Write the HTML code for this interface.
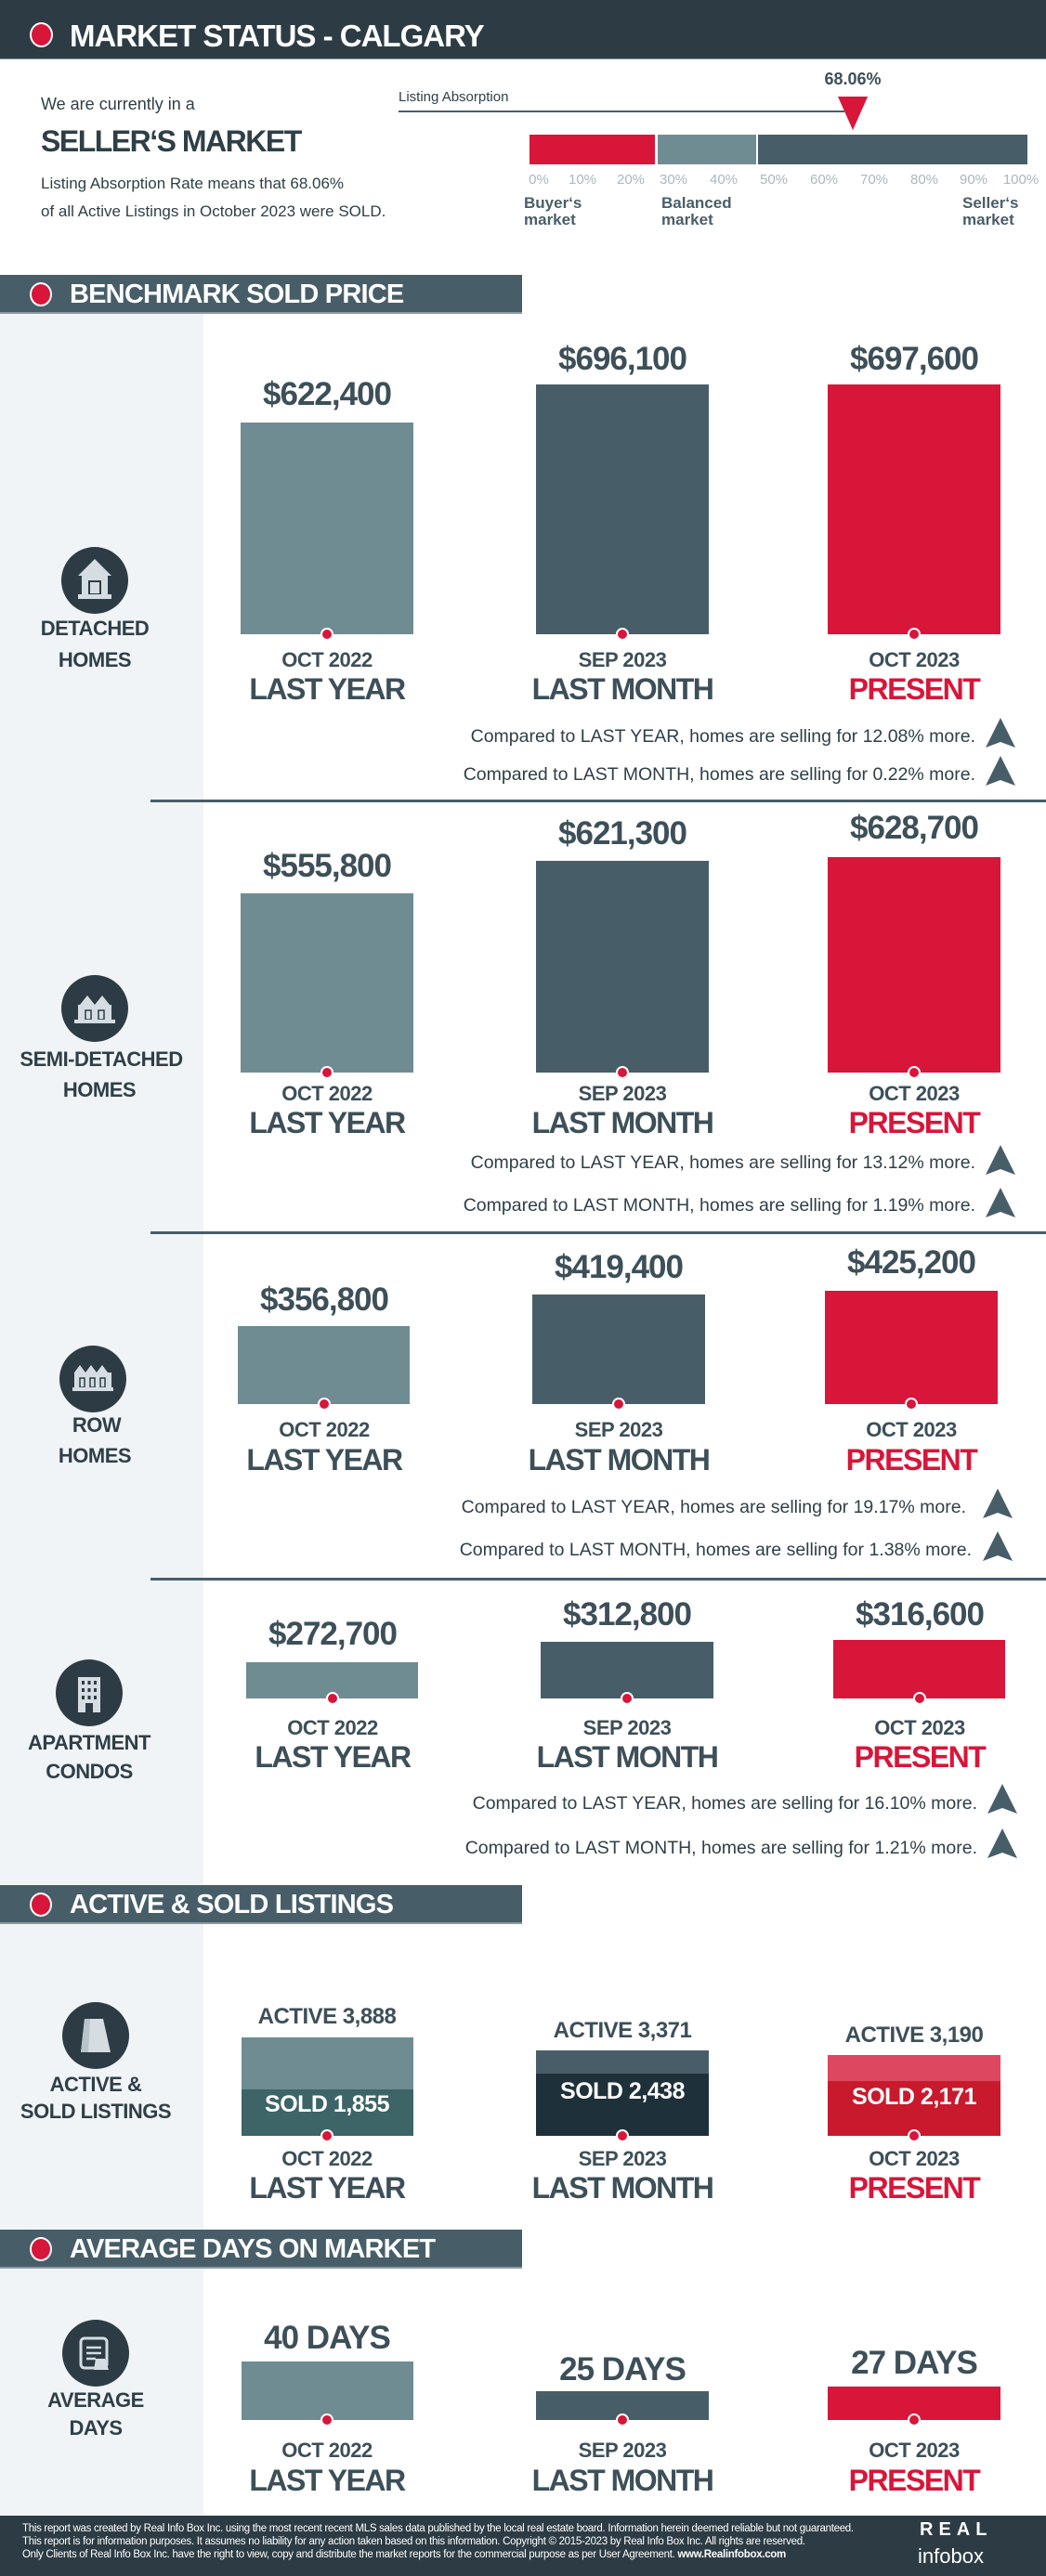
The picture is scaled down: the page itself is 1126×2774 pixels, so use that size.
<!DOCTYPE html>
<html><head><meta charset="utf-8"><style>
*{margin:0;padding:0;box-sizing:border-box}
body{width:1126px;height:2774px;position:relative;background:#fff;font-family:"Liberation Sans",sans-serif;color:#3d4f58;overflow:hidden}
.a{position:absolute}
.t{position:absolute;white-space:nowrap;line-height:1}
.c{transform:translateX(-50%)}
.b{font-weight:bold}
.p{font-size:35px;font-weight:bold;letter-spacing:-1px;color:#3d4f58}
.d{font-size:22px;font-weight:bold;letter-spacing:-0.5px;color:#3d4f58}
.l{font-size:32px;font-weight:bold;letter-spacing:-1.5px;color:#3d4f58}
.red{color:#d7163a}
.cmp{font-size:19.5px;color:#2f3f47}
.dot{position:absolute;width:14px;height:14px;border-radius:50%;background:#d7163a;border:2px solid #fff;transform:translate(-50%,-50%)}
.hd{position:absolute;left:0;width:562px;height:42px;background:#475e69;border-bottom:2px solid #8a9aa2}
.hd i{position:absolute;left:32px;top:8px;width:24px;height:26px;border-radius:50%;background:#d7163a;border:2px solid #fff}
.hd span{position:absolute;left:75px;top:7px;color:#fff;font-size:29px;font-weight:bold;letter-spacing:-0.8px;line-height:1}
.ic{position:absolute;width:72px;height:72px;border-radius:50%;background:#2d3c44;transform:translate(-50%,-50%)}
.sep{position:absolute;left:162px;width:964px;height:3px;background:#475e69}
.cat{font-size:22px;font-weight:bold;letter-spacing:-0.5px;color:#2f3f47}
</style></head><body>
<!-- left panel -->
<div class="a" style="left:0;top:338px;width:219px;height:2371px;background:#f1f4f7"></div>

<!-- top header -->
<div class="a" style="left:0;top:0;width:1126px;height:64px;background:#2d3c44;border-bottom:1px solid #8a9aa2"></div>
<div class="a" style="left:32px;top:24px;width:25px;height:27px;border-radius:50%;background:#d7163a;border:2px solid #fff"></div>
<div class="t b" style="left:75px;top:22px;font-size:33px;color:#fff;letter-spacing:-1px">MARKET STATUS - CALGARY</div>

<div class="t" style="left:44px;top:103px;font-size:18px;color:#2f3f47">We are currently in a</div>
<div class="t b" style="left:44px;top:136px;font-size:32px;color:#2f3f47;letter-spacing:-1.5px">SELLER‘S MARKET</div>
<div class="t" style="left:44px;top:189px;font-size:17px;color:#2f3f47">Listing Absorption Rate means that 68.06%</div>
<div class="t" style="left:44px;top:219px;font-size:17px;color:#2f3f47">of all Active Listings in October 2023 were SOLD.</div>

<div class="t" style="left:429px;top:97px;font-size:15px;color:#2f3f47">Listing Absorption</div>
<div class="a" style="left:429px;top:119px;width:480px;height:2px;background:#475e69"></div>
<div class="t b c" style="left:918px;top:76px;font-size:18px;color:#3d4f58">68.06%</div>
<svg class="a" style="left:902px;top:104px" width="32" height="36"><polygon points="0,0 32,0 16,36 14,14" fill="#d7163a"/><polygon points="0,0 32,0 16,36" fill="#d7163a"/></svg>
<div class="a" style="left:570px;top:145px;width:135px;height:32px;background:#d7163a"></div>
<div class="a" style="left:708px;top:145px;width:106px;height:32px;background:#6f8c92"></div>
<div class="a" style="left:816px;top:145px;width:290px;height:32px;background:#475e69"></div>
<div class="t c" style="left:580px;top:186px;font-size:15px;color:#aab8bd">0%</div>
<div class="t c" style="left:627px;top:186px;font-size:15px;color:#aab8bd">10%</div>
<div class="t c" style="left:679px;top:186px;font-size:15px;color:#aab8bd">20%</div>
<div class="t c" style="left:725px;top:186px;font-size:15px;color:#aab8bd">30%</div>
<div class="t c" style="left:779px;top:186px;font-size:15px;color:#aab8bd">40%</div>
<div class="t c" style="left:833px;top:186px;font-size:15px;color:#aab8bd">50%</div>
<div class="t c" style="left:887px;top:186px;font-size:15px;color:#aab8bd">60%</div>
<div class="t c" style="left:941px;top:186px;font-size:15px;color:#aab8bd">70%</div>
<div class="t c" style="left:995px;top:186px;font-size:15px;color:#aab8bd">80%</div>
<div class="t c" style="left:1048px;top:186px;font-size:15px;color:#aab8bd">90%</div>
<div class="t c" style="left:1099px;top:186px;font-size:15px;color:#aab8bd">100%</div>
<div class="t b" style="left:564px;top:210px;font-size:17px;color:#4a5e68;line-height:18px">Buyer‘s<br>market</div>
<div class="t b" style="left:712px;top:210px;font-size:17px;color:#4a5e68;line-height:18px">Balanced<br>market</div>
<div class="t b" style="left:1036px;top:210px;font-size:17px;color:#4a5e68;line-height:18px">Seller‘s<br>market</div>

<!-- BENCHMARK -->
<div class="hd" style="top:296px"><i></i><span>BENCHMARK SOLD PRICE</span></div>

<!-- Detached -->
<div class="ic" style="left:102px;top:625px"></div>
<svg class="a" style="left:80px;top:600px" width="44" height="48"><polygon points="22,2 40,20 4,20" fill="#d5dde2"/><rect x="8" y="20" width="28" height="22" fill="#d5dde2"/><rect x="16" y="26" width="12" height="14" fill="none" stroke="#2d3c44" stroke-width="2"/><rect x="4" y="40" width="36" height="5" fill="#d5dde2"/></svg>
<div class="t cat c" style="left:102px;top:666px">DETACHED</div>
<div class="t cat c" style="left:102px;top:700px">HOMES</div>

<div class="a" style="left:259px;top:455px;width:186px;height:228px;background:#6f8c92"></div>
<div class="a" style="left:577px;top:414px;width:186px;height:269px;background:#475e69"></div>
<div class="a" style="left:891px;top:414px;width:186px;height:269px;background:#d7163a"></div>
<div class="t p c" style="left:352px;top:407px">$622,400</div>
<div class="t p c" style="left:670px;top:369px">$696,100</div>
<div class="t p c" style="left:984px;top:369px">$697,600</div>
<div class="dot" style="left:352px;top:683px"></div><div class="dot" style="left:670px;top:683px"></div><div class="dot" style="left:984px;top:683px"></div>
<div class="t d c" style="left:352px;top:700px">OCT 2022</div>
<div class="t d c" style="left:670px;top:700px">SEP 2023</div>
<div class="t d c" style="left:984px;top:700px">OCT 2023</div>
<div class="t l c" style="left:352px;top:726px">LAST YEAR</div>
<div class="t l c" style="left:670px;top:726px">LAST MONTH</div>
<div class="t l c red" style="left:984px;top:726px">PRESENT</div>
<div class="t cmp" style="right:76px;top:784px">Compared to LAST YEAR, homes are selling for 12.08% more.</div>
<div class="t cmp" style="right:76px;top:825px">Compared to LAST MONTH, homes are selling for 0.22% more.</div>
<svg class="a" style="left:1061px;top:773px" width="32" height="32"><polygon points="16,0 32,32 16,26 0,32" fill="#475e69"/></svg>
<svg class="a" style="left:1061px;top:814px" width="32" height="32"><polygon points="16,0 32,32 16,26 0,32" fill="#475e69"/></svg>
<div class="sep" style="top:861px"></div>

<!-- Semi -->
<div class="ic" style="left:102px;top:1086px"></div>
<svg class="a" style="left:78px;top:1068px" width="48" height="36"><polygon points="8,14 16,4 24,14 32,4 40,14" fill="#d5dde2"/><rect x="6" y="14" width="36" height="16" fill="#d5dde2"/><rect x="14" y="20" width="6" height="10" fill="none" stroke="#2d3c44" stroke-width="1.5"/><rect x="28" y="20" width="6" height="10" fill="none" stroke="#2d3c44" stroke-width="1.5"/><rect x="2" y="30" width="44" height="4" fill="#d5dde2"/></svg>
<div class="t cat c" style="left:109px;top:1130px">SEMI-DETACHED</div>
<div class="t cat c" style="left:107px;top:1163px">HOMES</div>

<div class="a" style="left:259px;top:962px;width:186px;height:193px;background:#6f8c92"></div>
<div class="a" style="left:577px;top:927px;width:186px;height:228px;background:#475e69"></div>
<div class="a" style="left:891px;top:923px;width:186px;height:232px;background:#d7163a"></div>
<div class="t p c" style="left:352px;top:915px">$555,800</div>
<div class="t p c" style="left:670px;top:880px">$621,300</div>
<div class="t p c" style="left:984px;top:874px">$628,700</div>
<div class="dot" style="left:352px;top:1155px"></div><div class="dot" style="left:670px;top:1155px"></div><div class="dot" style="left:984px;top:1155px"></div>
<div class="t d c" style="left:352px;top:1167px">OCT 2022</div>
<div class="t d c" style="left:670px;top:1167px">SEP 2023</div>
<div class="t d c" style="left:984px;top:1167px">OCT 2023</div>
<div class="t l c" style="left:352px;top:1193px">LAST YEAR</div>
<div class="t l c" style="left:670px;top:1193px">LAST MONTH</div>
<div class="t l c red" style="left:984px;top:1193px">PRESENT</div>
<div class="t cmp" style="right:76px;top:1243px">Compared to LAST YEAR, homes are selling for 13.12% more.</div>
<div class="t cmp" style="right:76px;top:1289px">Compared to LAST MONTH, homes are selling for 1.19% more.</div>
<svg class="a" style="left:1061px;top:1233px" width="32" height="32"><polygon points="16,0 32,32 16,26 0,32" fill="#475e69"/></svg>
<svg class="a" style="left:1061px;top:1279px" width="32" height="32"><polygon points="16,0 32,32 16,26 0,32" fill="#475e69"/></svg>
<div class="sep" style="top:1326px"></div>

<!-- Row -->
<div class="ic" style="left:100px;top:1485px"></div>
<svg class="a" style="left:76px;top:1466px" width="48" height="34"><polygon points="4,12 10,4 16,12 22,4 28,12 34,4 40,12 44,12" fill="#d5dde2"/><rect x="4" y="12" width="40" height="16" fill="#d5dde2"/><rect x="10" y="18" width="5" height="10" fill="none" stroke="#2d3c44" stroke-width="1.5"/><rect x="21" y="18" width="5" height="10" fill="none" stroke="#2d3c44" stroke-width="1.5"/><rect x="32" y="18" width="5" height="10" fill="none" stroke="#2d3c44" stroke-width="1.5"/><rect x="2" y="28" width="44" height="4" fill="#d5dde2"/></svg>
<div class="t cat c" style="left:104px;top:1524px">ROW</div>
<div class="t cat c" style="left:102px;top:1557px">HOMES</div>

<div class="a" style="left:256px;top:1428px;width:185px;height:84px;background:#6f8c92"></div>
<div class="a" style="left:573px;top:1394px;width:186px;height:118px;background:#475e69"></div>
<div class="a" style="left:888px;top:1390px;width:186px;height:122px;background:#d7163a"></div>
<div class="t p c" style="left:349px;top:1382px">$356,800</div>
<div class="t p c" style="left:666px;top:1347px">$419,400</div>
<div class="t p c" style="left:981px;top:1342px">$425,200</div>
<div class="dot" style="left:349px;top:1512px"></div><div class="dot" style="left:666px;top:1512px"></div><div class="dot" style="left:981px;top:1512px"></div>
<div class="t d c" style="left:349px;top:1529px">OCT 2022</div>
<div class="t d c" style="left:666px;top:1529px">SEP 2023</div>
<div class="t d c" style="left:981px;top:1529px">OCT 2023</div>
<div class="t l c" style="left:349px;top:1556px">LAST YEAR</div>
<div class="t l c" style="left:666px;top:1556px">LAST MONTH</div>
<div class="t l c red" style="left:981px;top:1556px">PRESENT</div>
<div class="t cmp" style="right:86px;top:1614px">Compared to LAST YEAR, homes are selling for 19.17% more.</div>
<div class="t cmp" style="right:80px;top:1660px">Compared to LAST MONTH, homes are selling for 1.38% more.</div>
<svg class="a" style="left:1058px;top:1603px" width="32" height="32"><polygon points="16,0 32,32 16,26 0,32" fill="#475e69"/></svg>
<svg class="a" style="left:1058px;top:1649px" width="32" height="32"><polygon points="16,0 32,32 16,26 0,32" fill="#475e69"/></svg>
<div class="sep" style="top:1699px"></div>

<!-- Apartment -->
<div class="ic" style="left:96px;top:1823px"></div>
<svg class="a" style="left:76px;top:1800px" width="40" height="46"><rect x="8" y="6" width="24" height="38" fill="#d5dde2"/><g fill="#2d3c44"><rect x="12" y="10" width="3" height="4"/><rect x="18.5" y="10" width="3" height="4"/><rect x="25" y="10" width="3" height="4"/><rect x="12" y="18" width="3" height="4"/><rect x="18.5" y="18" width="3" height="4"/><rect x="25" y="18" width="3" height="4"/><rect x="12" y="26" width="3" height="4"/><rect x="18.5" y="26" width="3" height="4"/><rect x="25" y="26" width="3" height="4"/><rect x="16" y="34" width="8" height="10"/></g></svg>
<div class="t cat c" style="left:96px;top:1866px">APARTMENT</div>
<div class="t cat c" style="left:96px;top:1897px">CONDOS</div>

<div class="a" style="left:265px;top:1790px;width:185px;height:39px;background:#6f8c92"></div>
<div class="a" style="left:582px;top:1768px;width:186px;height:61px;background:#475e69"></div>
<div class="a" style="left:897px;top:1766px;width:185px;height:63px;background:#d7163a"></div>
<div class="t p c" style="left:358px;top:1742px">$272,700</div>
<div class="t p c" style="left:675px;top:1721px">$312,800</div>
<div class="t p c" style="left:990px;top:1721px">$316,600</div>
<div class="dot" style="left:358px;top:1829px"></div><div class="dot" style="left:675px;top:1829px"></div><div class="dot" style="left:990px;top:1829px"></div>
<div class="t d c" style="left:358px;top:1850px">OCT 2022</div>
<div class="t d c" style="left:675px;top:1850px">SEP 2023</div>
<div class="t d c" style="left:990px;top:1850px">OCT 2023</div>
<div class="t l c" style="left:358px;top:1876px">LAST YEAR</div>
<div class="t l c" style="left:675px;top:1876px">LAST MONTH</div>
<div class="t l c red" style="left:990px;top:1876px">PRESENT</div>
<div class="t cmp" style="right:74px;top:1933px">Compared to LAST YEAR, homes are selling for 16.10% more.</div>
<div class="t cmp" style="right:74px;top:1981px">Compared to LAST MONTH, homes are selling for 1.21% more.</div>
<svg class="a" style="left:1063px;top:1921px" width="32" height="32"><polygon points="16,0 32,32 16,26 0,32" fill="#475e69"/></svg>
<svg class="a" style="left:1063px;top:1969px" width="32" height="32"><polygon points="16,0 32,32 16,26 0,32" fill="#475e69"/></svg>

<!-- ACTIVE & SOLD -->
<div class="hd" style="top:2030px"><i></i><span>ACTIVE &amp; SOLD LISTINGS</span></div>
<div class="ic" style="left:103px;top:2192px"></div>
<svg class="a" style="left:83px;top:2170px" width="40" height="44"><polygon points="8,4 28,4 36,40 4,40" fill="#d5dde2"/><polygon points="8,4 14,4 12,40 4,40" fill="#b8c4ca"/></svg>
<div class="t cat c" style="left:103px;top:2234px">ACTIVE &amp;</div>
<div class="t cat c" style="left:103px;top:2263px">SOLD LISTINGS</div>

<div class="a" style="left:260px;top:2194px;width:185px;height:56px;background:#6f8c92"></div>
<div class="a" style="left:260px;top:2250px;width:185px;height:50px;background:#3d6466"></div>
<div class="a" style="left:577px;top:2208px;width:186px;height:25px;background:#475e69"></div>
<div class="a" style="left:577px;top:2233px;width:186px;height:67px;background:#1e313a"></div>
<div class="a" style="left:891px;top:2213px;width:186px;height:28px;background:#de4760"></div>
<div class="a" style="left:891px;top:2241px;width:186px;height:59px;background:#c81a2c"></div>
<div class="t b c" style="left:352px;top:2160px;font-size:24px;letter-spacing:-0.5px">ACTIVE 3,888</div>
<div class="t b c" style="left:670px;top:2175px;font-size:24px;letter-spacing:-0.5px">ACTIVE 3,371</div>
<div class="t b c" style="left:984px;top:2180px;font-size:24px;letter-spacing:-0.5px">ACTIVE 3,190</div>
<div class="t b c" style="left:352px;top:2254px;font-size:25px;color:#fff;letter-spacing:-0.5px">SOLD 1,855</div>
<div class="t b c" style="left:670px;top:2240px;font-size:25px;color:#fff;letter-spacing:-0.5px">SOLD 2,438</div>
<div class="t b c" style="left:984px;top:2246px;font-size:25px;color:#fff;letter-spacing:-0.5px">SOLD 2,171</div>
<div class="dot" style="left:352px;top:2300px"></div><div class="dot" style="left:670px;top:2300px"></div><div class="dot" style="left:984px;top:2300px"></div>
<div class="t d c" style="left:352px;top:2314px">OCT 2022</div>
<div class="t d c" style="left:670px;top:2314px">SEP 2023</div>
<div class="t d c" style="left:984px;top:2314px">OCT 2023</div>
<div class="t l c" style="left:352px;top:2340px">LAST YEAR</div>
<div class="t l c" style="left:670px;top:2340px">LAST MONTH</div>
<div class="t l c red" style="left:984px;top:2340px">PRESENT</div>

<!-- AVERAGE DAYS -->
<div class="hd" style="top:2401px"><i></i><span>AVERAGE DAYS ON MARKET</span></div>
<div class="ic" style="left:103px;top:2534px"></div>
<svg class="a" style="left:83px;top:2512px" width="40" height="44"><rect x="4" y="6" width="28" height="32" rx="4" fill="none" stroke="#d5dde2" stroke-width="3"/><g stroke="#d5dde2" stroke-width="2.5"><line x1="10" y1="16" x2="26" y2="16"/><line x1="10" y1="22" x2="26" y2="22"/><line x1="10" y1="28" x2="20" y2="28"/></g><polygon points="20,28 30,28 34,40 18,40" fill="#d5dde2"/></svg>
<div class="t cat c" style="left:103px;top:2574px">AVERAGE</div>
<div class="t cat c" style="left:103px;top:2604px">DAYS</div>

<div class="a" style="left:260px;top:2543px;width:185px;height:63px;background:#6f8c92"></div>
<div class="a" style="left:577px;top:2575px;width:186px;height:31px;background:#475e69"></div>
<div class="a" style="left:891px;top:2570px;width:186px;height:36px;background:#d7163a"></div>
<div class="t p c" style="left:352px;top:2500px">40 DAYS</div>
<div class="t p c" style="left:670px;top:2534px">25 DAYS</div>
<div class="t p c" style="left:984px;top:2527px">27 DAYS</div>
<div class="dot" style="left:352px;top:2606px"></div><div class="dot" style="left:670px;top:2606px"></div><div class="dot" style="left:984px;top:2606px"></div>
<div class="t d c" style="left:352px;top:2628px">OCT 2022</div>
<div class="t d c" style="left:670px;top:2628px">SEP 2023</div>
<div class="t d c" style="left:984px;top:2628px">OCT 2023</div>
<div class="t l c" style="left:352px;top:2655px">LAST YEAR</div>
<div class="t l c" style="left:670px;top:2655px">LAST MONTH</div>
<div class="t l c red" style="left:984px;top:2655px">PRESENT</div>

<!-- footer -->
<div class="a" style="left:0;top:2709px;width:1126px;height:65px;background:#2d3c44"></div>
<div class="t" style="left:24px;top:2718px;font-size:11.5px;color:#fff;letter-spacing:-0.3px">This report was created by Real Info Box Inc. using the most recent  recent MLS sales data published by the local real estate board. Information herein deemed reliable but not guaranteed.</div>
<div class="t" style="left:24px;top:2732px;font-size:11.5px;color:#fff;letter-spacing:-0.3px">This report is for information purposes. It assumes no liability for any action taken based on this information. Copyright © 2015-2023 by Real Info Box Inc. All rights are reserved.</div>
<div class="t" style="left:24px;top:2746px;font-size:11.5px;color:#fff;letter-spacing:-0.3px">Only Clients of Real Info Box Inc. have the right to view, copy and distribute the market reports for the commercial purpose as per User Agreement. <b>www.Realinfobox.com</b></div>
<div class="t b" style="left:990px;top:2714px;font-size:20px;color:#fff;letter-spacing:6px">REAL</div>
<div class="t" style="left:988px;top:2742px;font-size:22px;color:#fff">infobox</div>
</body></html>
